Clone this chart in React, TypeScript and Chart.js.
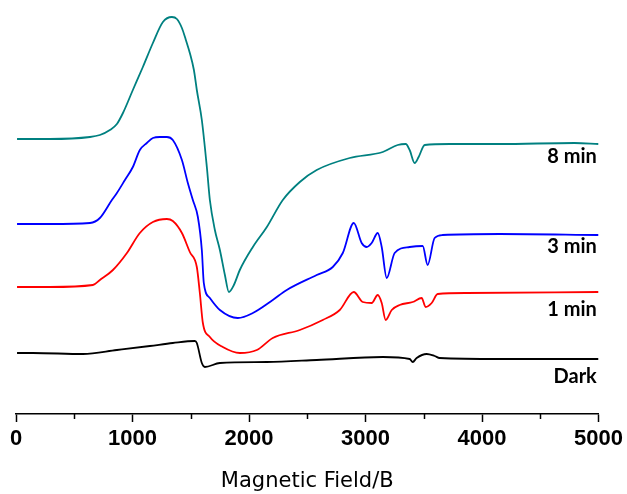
import React, { useEffect, useRef } from "react";
import { Chart, registerables } from "chart.js";

Chart.register(...registerables);

// Magnetic field (B) positions and relative EPR intensity (a.u., offset per trace)
const darkX = [9, 146, 575, 866, 1149, 1346, 1535, 1552, 1595, 1621, 1750, 2153, 2581, 3148, 3379, 3405, 3439, 3525, 3593, 3636, 4151, 5000];
const darkY = [61, 61, 60, 64, 68, 71, 73, 71, 51, 47, 51, 52, 54, 57, 55, 52, 56, 60, 58, 56, 55, 55];

const min1X = [9, 292, 660, 720, 832, 952, 1063, 1175, 1295, 1346, 1424, 1492, 1552, 1578, 1604, 1664, 1775, 1921, 2067, 2204, 2436, 2633, 2779, 2899, 2976, 3053, 3105, 3139, 3173, 3225, 3293, 3405, 3482, 3516, 3568, 3619, 3868, 5000];
const min1Y = [127, 127, 129, 134, 144, 161, 181, 192, 195, 193, 181, 162, 147, 121, 91, 77, 67, 61, 64, 76, 84, 94, 104, 122, 112, 111, 119, 111, 94, 104, 109, 112, 116, 107, 111, 120, 121, 122];

const min3X = [9, 292, 635, 720, 823, 866, 935, 1003, 1063, 1123, 1175, 1235, 1295, 1346, 1424, 1475, 1518, 1561, 1595, 1612, 1664, 1750, 1904, 2033, 2204, 2324, 2581, 2719, 2805, 2899, 2967, 3010, 3053, 3105, 3139, 3182, 3250, 3379, 3491, 3533, 3593, 3662, 4151, 5000];
const min3Y = [190, 190, 191, 196, 214, 221, 234, 247, 264, 271, 276, 277, 277, 274, 254, 231, 214, 197, 164, 131, 116, 104, 96, 101, 114, 124, 139, 147, 161, 191, 171, 167, 171, 181, 167, 136, 161, 167, 168, 149, 176, 179, 180, 179];

const min8X = [9, 292, 635, 720, 806, 866, 918, 1003, 1089, 1175, 1261, 1338, 1381, 1424, 1458, 1492, 1527, 1552, 1595, 1638, 1664, 1707, 1750, 1793, 1827, 1870, 1921, 2033, 2153, 2290, 2436, 2581, 2864, 3148, 3276, 3345, 3379, 3422, 3456, 3508, 3722, 4151, 4794, 5000];
const min8Y = [275, 275, 277, 279, 284, 290, 301, 324, 347, 371, 392, 397, 395, 386, 374, 361, 344, 324, 294, 247, 214, 184, 164, 139, 122, 129, 144, 167, 187, 214, 232, 244, 256, 262, 269, 270, 264, 251, 257, 269, 270, 270, 271, 270];

const seriesNames = ["Dark", "1 min", "3 min", "8 min"];
const seriesColors = ["#000000", "#ff0000", "#0000ff", "#008080"];
const labelY = [37, 104, 167, 257];
const labelX = 4985;

const xTicks = [0, 1000, 2000, 3000, 4000, 5000];
const xTickLabels = ["0", "1000", "2000", "3000", "4000", "5000"];
const minorTicks = [500, 1500, 2500, 3500, 4500];

const toPoints = (xs: number[], ys: number[]) => xs.map((x, i) => ({ x, y: ys[i] }));

export default function App() {
  const ref = useRef<HTMLCanvasElement | null>(null);

  useEffect(() => {
    if (!ref.current) return;
    const seriesData = [
      toPoints(darkX, darkY),
      toPoints(min1X, min1Y),
      toPoints(min3X, min3Y),
      toPoints(min8X, min8Y),
    ];

    const overlay = {
      id: "overlay",
      afterDraw(chart: any) {
        const ctx = chart.ctx;
        const xs = chart.scales.x;
        const ys = chart.scales.y;
        const axisY = chart.chartArea.bottom;
        ctx.save();
        ctx.strokeStyle = "#000";
        ctx.lineWidth = 1.5;
        minorTicks.forEach((v) => {
          const px = Math.round(xs.getPixelForValue(v)) + 0.5;
          ctx.beginPath();
          ctx.moveTo(px, axisY);
          ctx.lineTo(px, axisY + 5);
          ctx.stroke();
        });
        ctx.font = "bold 20px Lato";
        ctx.fillStyle = "#000";
        ctx.textAlign = "right";
        ctx.textBaseline = "middle";
        seriesNames.forEach((name, i) => {
          ctx.fillText(name, xs.getPixelForValue(labelX), ys.getPixelForValue(labelY[i]));
        });
        ctx.restore();
      },
    };

    const chart = new Chart(ref.current, {
      type: "line",
      data: {
        datasets: seriesNames.map((name, i) => ({
          label: name,
          data: seriesData[i],
          borderColor: seriesColors[i],
          backgroundColor: seriesColors[i],
          borderWidth: 1.8,
          pointRadius: 0,
          cubicInterpolationMode: "monotone",
          fill: false,
        })),
      },
      options: {
        animation: false,
        responsive: false,
        maintainAspectRatio: false,
        layout: { padding: { left: 16, right: 28, top: 0, bottom: 0 } },
        plugins: {
          legend: { display: false },
          tooltip: { enabled: false },
        },
        scales: {
          x: {
            type: "linear",
            min: 0,
            max: 5000,
            afterBuildTicks: (scale: any) => {
              scale.ticks = xTicks.map((v) => ({ value: v }));
            },
            afterFit: (scale: any) => {
              scale.height = 80;
            },
            border: { display: true, color: "#000", width: 1.5 },
            grid: {
              display: true,
              drawOnChartArea: false,
              drawTicks: true,
              tickLength: 8,
              tickWidth: 1.5,
              tickColor: "#000",
            },
            ticks: {
              color: "#000",
              padding: 4,
              maxRotation: 0,
              callback: (_v: any, i: number) => xTickLabels[i],
              font: { family: "Arial", size: 22, weight: "bold" },
            },
            title: {
              display: true,
              text: "Magnetic Field/B",
              color: "#000",
              padding: { top: 0, bottom: 0 },
              font: { family: "DejaVu Sans", size: 21, weight: "normal" },
            },
          },
          y: {
            type: "linear",
            display: false,
            min: 0,
            max: 414,
          },
        },
      },
      plugins: [overlay],
    } as any);

    return () => chart.destroy();
  }, []);

  return (
    <div style={{ position: "fixed", left: 0, top: 0, width: 627, height: 494, background: "#fff" }}>
      <canvas ref={ref} width={627} height={494} style={{ display: "block" }} />
    </div>
  );
}
